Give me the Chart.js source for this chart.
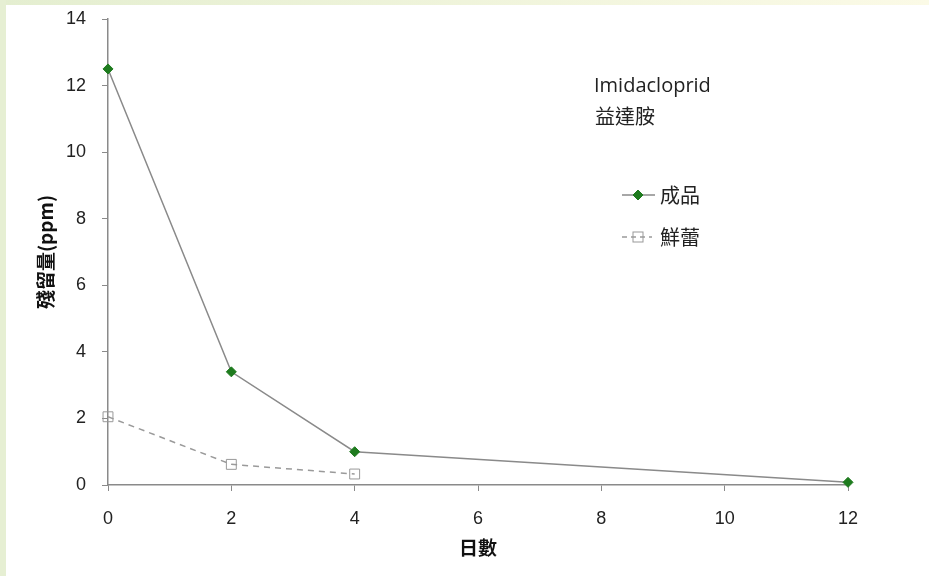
<!DOCTYPE html>
<html>
<head>
<meta charset="utf-8">
<script src="https://cdn.jsdelivr.net/npm/chart.js@4.4.0/dist/chart.umd.min.js"></script>
<style>
    body { margin: 0; background: #fff; }
    #grafico { display: block; }
</style>
</head>
<body>
<canvas id="grafico" width="929" height="576"></canvas>
<script>
// days after spraying / residue in ppm
const daysProduct = [0, 2, 4, 12];
const residueProduct = [12.5, 3.4, 1.0, 0.08];
const daysFresh = [0, 2, 4];
const residueFresh = [2.05, 0.62, 0.33];

const xTicks = [0, 2, 4, 6, 8, 10, 12];
const yTicks = [0, 2, 4, 6, 8, 10, 12, 14];

const nameProduct = '成品';
const nameFresh = '鮮蕾';
const titleX = '日數';
const titleY = '殘留量(ppm)';
const note = ['Imidacloprid', '益達胺'];

const cjk = '"Noto Sans CJK TC", sans-serif';
const green = '#1e7b1e';

function toPoints(xs, ys) {
    return xs.map((x, i) => ({ x: x, y: ys[i] }));
}

// light green frame around the slide
const frame = {
    id: 'frame',
    beforeDraw(chart) {
        const c = chart.ctx;
        c.save();
        c.fillStyle = '#fff';
        c.fillRect(0, 0, chart.width, chart.height);
        const g = c.createLinearGradient(0, 0, chart.width, 0);
        g.addColorStop(0, '#e4eed0');
        g.addColorStop(1, '#fbfae6');
        c.fillStyle = g;
        c.fillRect(0, 0, chart.width, 5);
        c.fillStyle = '#e6efd3';
        c.fillRect(0, 0, 6, chart.height);
        c.restore();
    }
};

// annotation text and legend inside the plot
const notes = {
    id: 'notes',
    afterDraw(chart) {
        const c = chart.ctx;
        c.save();
        c.textBaseline = 'middle';
        c.textAlign = 'left';
        c.fillStyle = '#222';
        c.font = '20px "Open Sans", sans-serif';
        c.fillText(note[0], 594, 86);
        c.font = '20px ' + cjk;
        c.fillText(note[1], 595, 116);

        // 成品
        c.strokeStyle = '#8a8a8a';
        c.lineWidth = 1.5;
        c.beginPath();
        c.moveTo(622, 195);
        c.lineTo(655, 195);
        c.stroke();
        c.fillStyle = green;
        c.strokeStyle = green;
        c.lineWidth = 1;
        Chart.helpers.drawPoint(c, { pointStyle: 'rectRot', radius: 5, borderWidth: 1 }, 638, 195);
        c.fillStyle = '#222';
        c.fillText(nameProduct, 660, 195);

        // 鮮蕾
        c.strokeStyle = '#9a9a9a';
        c.lineWidth = 1.5;
        c.setLineDash([5, 4]);
        c.beginPath();
        c.moveTo(622, 237);
        c.lineTo(652, 237);
        c.stroke();
        c.setLineDash([]);
        c.strokeStyle = '#999';
        c.lineWidth = 1;
        c.strokeRect(633, 232, 10, 10);
        c.fillStyle = '#222';
        c.fillText(nameFresh, 660, 237);
        c.restore();
    }
};

const ctx = document.getElementById('grafico');

new Chart(ctx, {
    type: 'scatter',
    data: {
        datasets: [{
            label: nameProduct,
            data: toPoints(daysProduct, residueProduct),
            showLine: true,
            clip: false,
            borderColor: '#8a8a8a',
            borderWidth: 1.5,
            pointStyle: 'rectRot',
            pointRadius: 5,
            pointBackgroundColor: green,
            pointBorderColor: green,
            pointBorderWidth: 1
        }, {
            label: nameFresh,
            data: toPoints(daysFresh, residueFresh),
            showLine: true,
            clip: false,
            borderColor: '#9a9a9a',
            borderWidth: 1.5,
            borderDash: [6, 5],
            pointStyle: 'rect',
            pointRadius: 7,
            pointBackgroundColor: 'rgba(0,0,0,0)',
            pointBorderColor: '#999',
            pointBorderWidth: 1
        }]
    },
    options: {
        responsive: false,
        animation: false,
        layout: { padding: { left: 8, top: 19, right: 81, bottom: 0 } },
        plugins: {
            legend: { display: false },
            tooltip: { enabled: false }
        },
        scales: {
            x: {
                type: 'linear',
                min: 0,
                max: 12,
                afterBuildTicks: s => { s.ticks = xTicks.map(v => ({ value: v })); },
                afterFit: s => { s.height = 91; s.paddingLeft = 0; s.paddingRight = 0; },
                border: { color: '#8a8a8a', width: 1.5 },
                grid: { drawOnChartArea: false, drawTicks: true, tickLength: 6, color: '#8a8a8a' },
                ticks: { padding: 17, color: '#222', font: { family: '"Liberation Sans", sans-serif', size: 18 } },
                title: {
                    display: true,
                    text: titleX,
                    color: '#111',
                    padding: { top: 0, bottom: 17 },
                    font: { family: cjk, size: 19, weight: 'bold' }
                }
            },
            y: {
                min: 0,
                max: 14,
                afterBuildTicks: s => { s.ticks = yTicks.map(v => ({ value: v })); },
                afterFit: s => { s.width = 100; s.paddingTop = 0; s.paddingBottom = 0; },
                border: { color: '#8a8a8a', width: 1.5 },
                grid: { drawOnChartArea: false, drawTicks: true, tickLength: 6, color: '#8a8a8a' },
                ticks: { padding: 16, color: '#222', font: { family: '"Liberation Sans", sans-serif', size: 18 } },
                title: {
                    display: true,
                    text: titleY,
                    color: '#111',
                    padding: { top: 26, bottom: 0 },
                    font: { family: cjk, size: 19, weight: 'bold' }
                }
            }
        }
    },
    plugins: [frame, notes]
});
</script>
</body>
</html>
